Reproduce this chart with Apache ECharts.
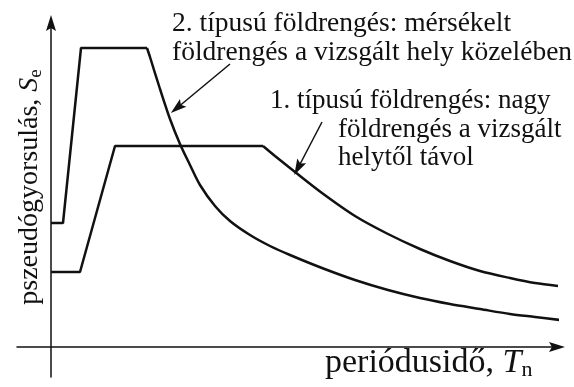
<!DOCTYPE html>
<html>
<head>
<meta charset="utf-8">
<script src="https://cdn.jsdelivr.net/npm/echarts@6/dist/echarts.min.js"></script>
<style>
  html, body { margin: 0; padding: 0; background: #fff; }
  #chart { width: 574px; height: 387px; background: #fff; }
</style>
</head>
<body>
<div id="chart"></div>
<script>
// Pseudo-acceleration response spectra for two earthquake types.
// T: period (arbitrary units), Se: pseudo-acceleration (arbitrary units).

// Type 1: large, distant earthquake — rising branch and plateau
const type1RampT  = [0, 0.29, 0.64, 2.12];
const type1RampSe = [0.75, 0.75, 2.01, 2.01];
// Type 1: descending branch
const type1DecayT  = [2.12, 2.24, 2.44, 2.71, 3.04, 3.37, 3.69, 3.99, 4.29, 4.59, 4.84, 5.07];
const type1DecaySe = [2.01, 1.91, 1.75, 1.54, 1.31, 1.13, 0.98, 0.86, 0.76, 0.69, 0.64, 0.61];

// Type 2: moderate, nearby earthquake — rising branch and plateau
const type2RampT  = [0, 0.12, 0.30, 0.96];
const type2RampSe = [1.24, 1.24, 2.99, 2.99];
// Type 2: descending branch
const type2DecayT  = [0.96, 0.99, 1.09, 1.19, 1.29, 1.39, 1.49, 1.64, 1.79, 1.99, 2.19, 2.39, 2.71, 3.04, 3.37, 3.69, 3.99, 4.29, 4.59, 4.84, 5.09];
const type2DecaySe = [2.99, 2.90, 2.58, 2.28, 2.03, 1.82, 1.62, 1.41, 1.26, 1.12, 1.01, 0.92, 0.79, 0.67, 0.57, 0.49, 0.43, 0.38, 0.33, 0.30, 0.27];

// Leader arrows: [tail, head] in data units
const arrowType2 = [[1.79, 2.83], [1.26, 2.39]];
const arrowType1 = [[2.71, 2.25], [2.47, 1.79]];

// Texts
const labelType2 = ['2. típusú földrengés: mérsékelt', 'földrengés a vizsgált hely közelében'];
const labelType1Head = '1. típusú földrengés: nagy';
const labelType1Rest = ['földrengés a vizsgált', 'helytől távol'];
const yTitle = ['pszeudógyorsulás, ', 'S', 'e'];
const xTitle = ['periódusidő, ', 'T', 'n'];

const ink = '#111';
const serif = 'Liberation Serif';
const arrowHead = 'path://M5,0L10,16L5,13L0,16Z';
const pairs = (xs, ys) => xs.map((x, i) => [x, ys[i]]);

const curve = (name, xs, ys, smooth) => ({
  name: name,
  type: 'line',
  data: pairs(xs, ys),
  symbol: 'none',
  smooth: smooth ? 0.3 : false,
  clip: false,
  silent: true,
  lineStyle: { color: ink, width: 2.5 }
});

const axisLine = {
  onZero: true,
  symbol: ['none', arrowHead],
  symbolSize: [14, 16],
  lineStyle: { color: ink, width: 1.5 }
};

const chart = echarts.init(document.getElementById('chart'));

const series = [
  curve('1. típus', type1RampT, type1RampSe, false),
  curve('1. típus', type1DecayT, type1DecaySe, true),
  curve('2. típus', type2RampT, type2RampSe, false),
  curve('2. típus', type2DecayT, type2DecaySe, true)
];
series[0].markLine = {
  silent: true,
  animation: false,
  symbol: ['none', arrowHead],
  symbolSize: [10, 16],
  label: { show: false },
  lineStyle: { color: ink, width: 1.5, type: 'solid' },
  data: [
    [{ coord: arrowType2[0] }, { coord: arrowType2[1] }],
    [{ coord: arrowType1[0] }, { coord: arrowType1[1] }]
  ]
};

chart.setOption({
  animation: false,
  grid: { left: 17, right: 17, top: 23, bottom: 10, containLabel: false },
  xAxis: {
    type: 'value', min: -0.34, max: 5.06,
    axisLine: axisLine,
    axisTick: { show: false }, axisLabel: { show: false }, splitLine: { show: false }
  },
  yAxis: {
    type: 'value', min: -0.30, max: 3.24,
    axisLine: axisLine,
    axisTick: { show: false }, axisLabel: { show: false }, splitLine: { show: false }
  },
  series: series,
  graphic: [
    { type: 'text', x: 172, y: 9.2,
      style: { text: labelType2.join('\n'), fontSize: 27.5, fontFamily: serif, fill: ink,
               lineHeight: 29, align: 'left', verticalAlign: 'top' } },
    { type: 'text', x: 270, y: 86.5,
      style: { text: labelType1Head, fontSize: 27, fontFamily: serif, fill: ink,
               lineHeight: 29, align: 'left', verticalAlign: 'top' } },
    { type: 'text', x: 338, y: 115.5,
      style: { text: labelType1Rest.join('\n'), fontSize: 27, fontFamily: serif, fill: ink,
               lineHeight: 28, align: 'left', verticalAlign: 'top' } },
    { type: 'text', x: 30, y: 187, rotation: Math.PI / 2,
      style: { text: yTitle[0] + '{s|' + yTitle[1] + '}{e|' + yTitle[2] + '}',
               fontSize: 28, fontFamily: serif, fill: ink, lineHeight: 32,
               align: 'center', verticalAlign: 'middle',
               rich: {
                 s: { fontSize: 28, fontFamily: serif, fontStyle: 'italic', fill: ink, lineHeight: 32 },
                 e: { fontSize: 19, fontFamily: serif, fill: ink, lineHeight: 20, verticalAlign: 'bottom' }
               } } },
    { type: 'text', x: 325, y: 345.5,
      style: { text: xTitle[0] + '{t|' + xTitle[1] + '}{n|' + xTitle[2] + '}',
               fontSize: 34, fontFamily: serif, fill: ink, lineHeight: 36,
               align: 'left', verticalAlign: 'top',
               rich: {
                 t: { fontSize: 34, fontFamily: serif, fontStyle: 'italic', fill: ink, lineHeight: 36 },
                 n: { fontSize: 22, fontFamily: serif, fill: ink, lineHeight: 10, verticalAlign: 'bottom' }
               } } }
  ]
});
</script>
</body>
</html>
